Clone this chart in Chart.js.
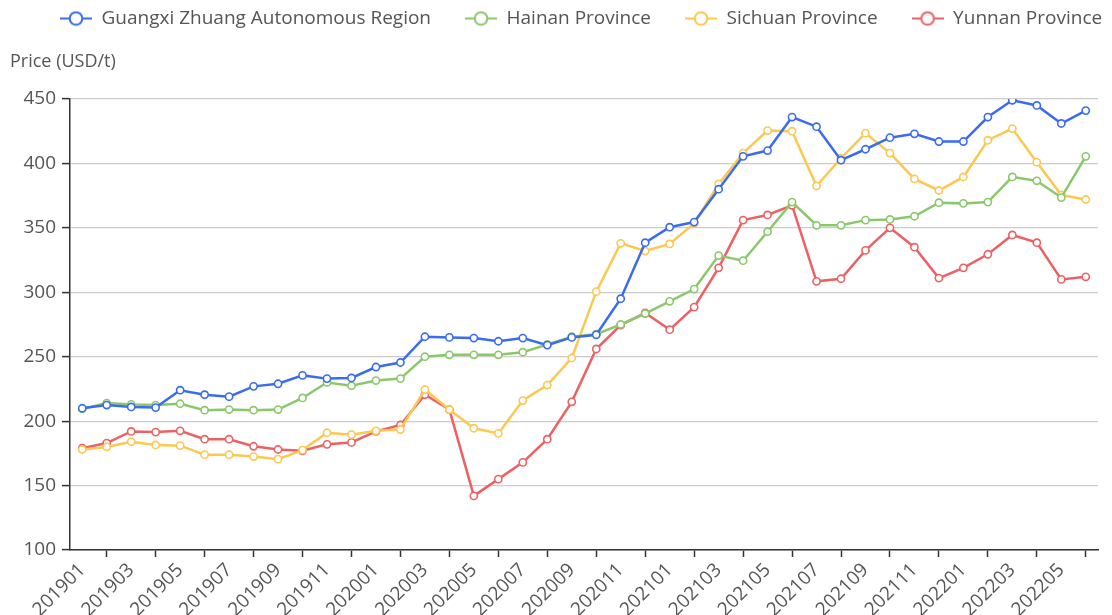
<!DOCTYPE html>
<html>
<head>
<meta charset="utf-8">
<script src="https://cdn.jsdelivr.net/npm/chart.js@4.4.1/dist/chart.umd.min.js"></script>
<style>
  html, body { margin: 0; padding: 0; background: #ffffff; }
  #wrap { width: 1112px; height: 615px; position: relative; }
</style>
</head>
<body>
<div id="wrap"><canvas id="c" width="1112" height="615"></canvas></div>
<script>
const categories = [
  '201901','201902','201903','201904','201905','201906','201907','201908','201909','201910','201911','201912',
  '202001','202002','202003','202004','202005','202006','202007','202008','202009','202010','202011','202012',
  '202101','202102','202103','202104','202105','202106','202107','202108','202109','202110','202111','202112',
  '202201','202202','202203','202204','202205','202206'
];
const guangxi = [210, 212.5, 211, 210.5, 224, 220.5, 219, 227, 229, 235.5, 233, 233.5,
  242, 245.5, 265.5, 265, 264.5, 262, 264.5, 259, 265, 267, 295, 338.5,
  350.5, 354.5, 380, 405.5, 410, 436, 428.5, 402.5, 411, 420, 423, 417,
  417, 436, 449, 445, 431, 441];
const hainan = [209.5, 214, 213, 212.5, 213.5, 208.5, 209, 208.5, 209, 218, 230, 227.5,
  231.5, 233, 250, 251.5, 251.5, 251.5, 253.5, 259.5, 265.5, 267.5, 275, 283.5,
  293, 302.5, 328.5, 324.5, 347, 370, 352, 352, 356, 356.5, 359, 369.5,
  369, 370, 389.5, 386.5, 373.5, 405.5];
const sichuan = [178, 180, 184, 181.5, 181, 174, 174, 172.5, 170.5, 177.5, 191, 189.5,
  192.5, 193.5, 224.5, 209, 194.5, 190.5, 216, 228, 249, 300.5, 338, 332,
  337.5, 353.5, 384, 408, 425.5, 425, 382.5, 404, 423.5, 408, 388, 379,
  389.5, 418, 427, 401, 375.5, 372];
const yunnan = [179, 183, 192, 191.5, 192.5, 186, 186, 180.5, 178, 177, 182, 183.5,
  192, 197, 220.5, 209, 142, 155, 168, 186, 215, 256, 274.5, 284,
  271, 288.5, 319, 356, 360, 367.5, 308.5, 310.5, 332.5, 350, 335, 311,
  319, 329.5, 344.5, 338.5, 310, 312];
const seriesNames = ['Guangxi Zhuang Autonomous Region', 'Hainan Province', 'Sichuan Province', 'Yunnan Province'];
const yTicks = [100, 150, 200, 250, 300, 350, 400, 450];
const yAxisTitle = 'Price (USD/t)';

const colors = ['#3b6cf0', '#8bc86c', '#fbc851', '#ec6163'];
const FONT = '"Open Sans", "Noto Sans", sans-serif';
const TEXT = '#555555';

function legendIcon(color) {
  const c = document.createElement('canvas');
  c.width = 32; c.height = 16;
  const g = c.getContext('2d');
  g.strokeStyle = color; g.lineWidth = 2;
  g.beginPath(); g.moveTo(0, 8); g.lineTo(32, 8); g.stroke();
  g.beginPath(); g.arc(16, 8, 6.3, 0, Math.PI * 2);
  g.fillStyle = '#ffffff'; g.fill(); g.stroke();
  return c;
}
const icons = colors.map(legendIcon);

const allSeries = [guangxi, hainan, sichuan, yunnan];
const datasets = allSeries.map((d, i) => ({
  label: seriesNames[i],
  data: d,
  borderColor: colors[i],
  backgroundColor: '#ffffff',
  borderWidth: 2.5,
  pointRadius: 3.6,
  pointBorderWidth: 1.6,
  pointBackgroundColor: '#ffffff',
  pointBorderColor: colors[i],
  tension: 0,
  fill: false
}));

const axisTitlePlugin = {
  id: 'axisTitle',
  afterDraw(chart) {
    const ctx = chart.ctx;
    ctx.save();
    ctx.font = '18px ' + FONT;
    ctx.fillStyle = TEXT;
    ctx.textBaseline = 'middle';
    ctx.textAlign = 'left';
    ctx.fillText(yAxisTitle, 10, 62);
    ctx.restore();
  }
};

const legendSizePlugin = {
  id: 'legendSize',
  beforeInit(chart) {
    const lg = chart.legend;
    if (lg) {
      const orig = lg.fit;
      lg.fit = function () {
        const mw = this.maxWidth;
        this.maxWidth = 1600;
        orig.call(this);
        this.maxWidth = mw;
        this.width = mw;
        this.height = 124;
      };
    }
  },
  afterLayout(chart) {
    const lg = chart.legend;
    if (lg) { lg.left = 26; lg.right = 1600; }
  }
};

new Chart(document.getElementById('c'), {
  type: 'line',
  data: { labels: categories, datasets },
  plugins: [axisTitlePlugin, legendSizePlugin],
  options: {
    responsive: false,
    animation: false,
    layout: { padding: { top: -25, left: 0, right: 14, bottom: 0 } },
    plugins: {
      tooltip: { enabled: false },
      legend: {
        display: true,
        position: 'top',
        align: 'start',
        labels: {
          usePointStyle: true,
          pointStyleWidth: 32,
          padding: 34,
          color: TEXT,
          font: { size: 19, family: FONT },
          generateLabels(chart) {
            return chart.data.datasets.map((ds, i) => ({
              text: ds.label,
              pointStyle: icons[i],
              fillStyle: '#fff',
              strokeStyle: colors[i],
              lineWidth: 0,
              fontColor: TEXT,
              hidden: false,
              datasetIndex: i
            }));
          }
        }
      }
    },
    scales: {
      x: {
        type: 'category',
        offset: true,
        afterFit(scale) { scale.height = 65; },
        border: { display: true, color: '#333333', width: 1.5 },
        grid: {
          display: true,
          drawOnChartArea: false,
          drawTicks: true,
          tickLength: 7,
          tickWidth: 1.5,
          tickColor: (ctx) => (ctx.index % 2 === 1 ? '#333333' : 'rgba(0,0,0,0)'),
          offset: false
        },
        ticks: {
          autoSkip: false,
          maxRotation: 45,
          minRotation: 45,
          padding: 2,
          color: TEXT,
          font: { size: 19, family: FONT },
          callback(value, index) { return index % 2 === 0 ? categories[index] : ''; }
        }
      },
      y: {
        min: yTicks[0],
        max: yTicks[yTicks.length - 1],
        afterFit(scale) { scale.width = 70; },
        afterBuildTicks(scale) { scale.ticks = yTicks.map(v => ({ value: v })); },
        border: { display: true, color: '#333333', width: 1.5 },
        grid: {
          color: '#cccccc',
          lineWidth: 1.2,
          tickLength: 8,
          tickColor: '#333333',
          tickWidth: 1.5
        },
        ticks: {
          padding: 6,
          color: TEXT,
          font: { size: 19, family: FONT }
        }
      }
    }
  }
});
</script>
</body>
</html>
